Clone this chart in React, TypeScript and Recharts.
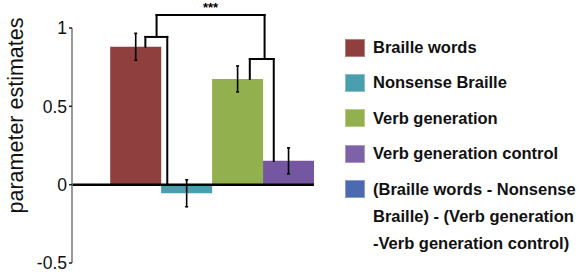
import React from 'react';
import { ComposedChart, Bar, Cell, ErrorBar, XAxis, YAxis, ReferenceLine } from 'recharts';

const categories = ['Braille words', 'Nonsense Braille', 'Verb generation', 'Verb generation control'];
const positions = [0, 1, 2, 3];
const values = [0.88, -0.055, 0.675, 0.152];
const errors = [0.086, 0.086, 0.083, 0.083];
const barColors = ['#8F3F3D', '#4A9FAE', '#93B04E', '#7556A1'];
const legendColors = ['#8F3F3D', '#4A9FAE', '#93B04E', '#7E62A8', '#4C6AB2'];
const legendLines = [
  ['Braille words'],
  ['Nonsense Braille'],
  ['Verb generation'],
  ['Verb generation control'],
  ['(Braille words - Nonsense', 'Braille) - (Verb generation', '-Verb generation control)'],
];
const yTicks = [-0.5, 0, 0.5, 1];
const yDomain = [-0.5, 1];
const xDomain = [-1.25, 3.5];
// significance brackets in data units: [x1, y1, x2, y2]
const bracketSegments = [
  [0.19, 0.88, 0.19, 0.943],
  [0.19, 0.943, 0.62, 0.943],
  [0.62, 0.943, 0.62, 0],
  [0.41, 0.943, 0.41, 1.083],
  [2.53, 1.083, 2.53, 0.802],
  [2.24, 0.675, 2.24, 0.802],
  [2.24, 0.802, 2.71, 0.802],
  [2.71, 0.802, 2.71, 0.152],
];
const topBracket = [0.41, 1.083, 2.53, 1.083];
const significance = '***';
const yLabel = 'parameter estimates';

const data = categories.map((c, i) => ({ name: c, x: positions[i], value: values[i], err: errors[i] }));

const FONT = '"Liberation Sans", Arial, sans-serif';

const YLabel = (props: any) => {
  const vb = props.viewBox || { x: 0, y: 0, width: 0, height: 0 };
  const cx = vb.x + 16;
  const cy = vb.y + vb.height / 2 - 30;
  return (
    <text
      x={cx}
      y={cy}
      transform={`rotate(-90, ${cx}, ${cy})`}
      textAnchor="middle"
      dominantBaseline="central"
      fontSize={21.5}
      fontFamily={FONT}
      fill="#111"
    >
      {yLabel}
    </text>
  );
};

export default function App() {
  return (
    <div style={{ position: 'absolute', left: 0, top: 0, width: 583, height: 272, background: '#fff' }}>
      <ComposedChart
        width={583}
        height={272}
        data={data}
        margin={{ top: 28, right: 269, bottom: 9, left: 0 }}
        barCategoryGap={0}
        barGap={0}
      >
        <XAxis type="number" dataKey="x" domain={xDomain} ticks={positions} hide allowDataOverflow />
        <YAxis
          type="number"
          domain={yDomain}
          ticks={yTicks}
          interval={0}
          width={72}
          allowDataOverflow
          axisLine={{ stroke: '#777', strokeWidth: 1.5 }}
          tickLine={{ stroke: '#222', strokeWidth: 1.5 }}
          tickSize={3}
          tickMargin={2}
          tick={{ fontSize: 17.5, fontFamily: FONT, fill: '#111' }}
          label={<YLabel />}
        />
        <Bar dataKey="value" isAnimationActive={false}>
          {data.map((d, i) => (
            <Cell key={d.name} fill={barColors[i]} />
          ))}
          <ErrorBar dataKey="err" width={1.5} stroke="#000" strokeWidth={1.6} />
        </Bar>
        <ReferenceLine y={0} stroke="#000" strokeWidth={2.5} />
        {bracketSegments.map((s, i) => (
          <ReferenceLine
            key={i}
            segment={[{ x: s[0], y: s[1] }, { x: s[2], y: s[3] }]}
            stroke="#000"
            strokeWidth={2}
            strokeLinecap="square"
            ifOverflow="visible"
          />
        ))}
        <ReferenceLine
          segment={[{ x: topBracket[0], y: topBracket[1] }, { x: topBracket[2], y: topBracket[3] }]}
          stroke="#000"
          strokeWidth={2}
          strokeLinecap="square"
          ifOverflow="visible"
          label={{ value: significance, position: 'top', fontSize: 13, fontWeight: 'bold', fill: '#000', fontFamily: FONT, offset: 3 }}
        />
      </ComposedChart>
      <div style={{ position: 'absolute', left: 345, top: 30, width: 238, fontFamily: FONT, fontWeight: 'bold', fontSize: 16.5, color: '#111' }}>
        {legendLines.map((lines, i) => (
          <div key={i} style={{ display: 'flex', alignItems: 'flex-start', height: lines.length > 1 ? 'auto' : 35.4 }}>
            <div
              style={{
                width: 20,
                height: 18,
                marginTop: 8.7,
                marginRight: 8,
                background: legendColors[i],
                boxSizing: 'border-box',
                border: '1px solid rgba(255,255,255,0.35)',
                flex: 'none',
              }}
            />
            <div style={{ paddingTop: lines.length > 1 ? 4.2 : 0, lineHeight: lines.length > 1 ? '27px' : '35.4px', whiteSpace: 'nowrap' }}>
              {lines.map((l, j) => (
                <div key={j}>{l}</div>
              ))}
            </div>
          </div>
        ))}
      </div>
    </div>
  );
}
